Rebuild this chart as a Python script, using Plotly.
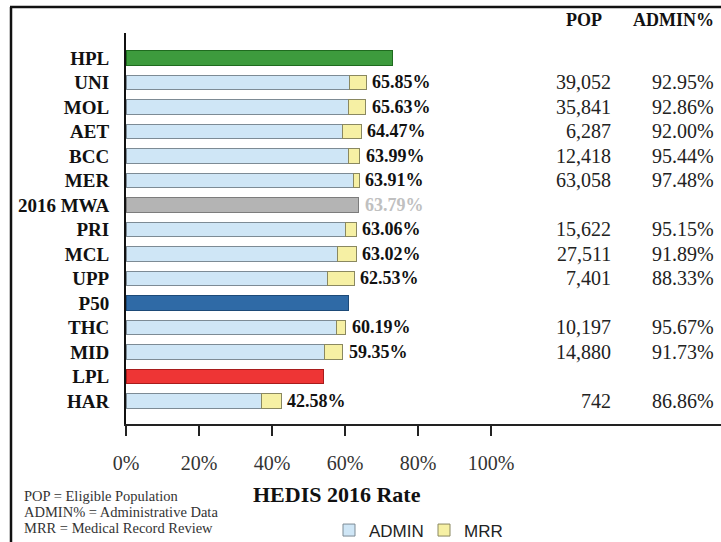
import plotly.graph_objects as go

# ---- data ----
row_order = ["HPL", "UNI", "MOL", "AET", "BCC", "MER", "2016 MWA", "PRI", "MCL",
             "UPP", "P50", "THC", "MID", "LPL", "HAR"]
plans = ["UNI", "MOL", "AET", "BCC", "MER", "PRI", "MCL", "UPP", "THC", "MID", "HAR"]
rates = [65.85, 65.63, 64.47, 63.99, 63.91, 63.06, 63.02, 62.53, 60.19, 59.35, 42.58]
pop = [39052, 35841, 6287, 12418, 63058, 15622, 27511, 7401, 10197, 14880, 742]
admin_pct = [92.95, 92.86, 92.00, 95.44, 97.48, 95.15, 91.89, 88.33, 95.67, 91.73, 86.86]

bench_names = ["HPL", "2016 MWA", "P50", "LPL"]
bench_values = [73.1, 63.79, 61.0, 54.2]
bench_colors = ["#3d9b3d", "#b4b4b4", "#2f6aa6", "#ee3535"]
bench_lines = ["#1f6b1f", "#7c7c7c", "#1d4a78", "#a81c1c"]

x_ticks = [0, 20, 40, 60, 80, 100]
x_ticktext = ["0%", "20%", "40%", "60%", "80%", "100%"]

admin_part = [r * a / 100 for r, a in zip(rates, admin_pct)]
mrr_part = [r - ad for r, ad in zip(rates, admin_part)]

SERIF = "Liberation Serif, Times New Roman, serif"
SANS = "Liberation Sans, Arial, sans-serif"

# geometry
W, H = 721, 542
ML, MR, MT, MB = 126, 0, 33, 542 - 424
PW, PH = W - ML - MR, H - MT - MB


def px(x):
    return (x - ML) / PW


def py(y):
    return (H - MB - y) / PH


cats_bottom_up = list(reversed(row_order))

fig = go.Figure()
fig.add_trace(go.Bar(
    y=plans, x=admin_part, orientation="h", name="ADMIN",
    marker=dict(color="#cfe6f6", line=dict(color="#7d8b95", width=1)),
    width=0.6, hoverinfo="skip"))
fig.add_trace(go.Bar(
    y=plans, x=mrr_part, orientation="h", name="MRR",
    marker=dict(color="#f6f0a4", line=dict(color="#8a8860", width=1)),
    width=0.6, hoverinfo="skip"))
for n, v, c, lc in zip(bench_names, bench_values, bench_colors, bench_lines):
    fig.add_trace(go.Bar(
        y=[n], x=[v], orientation="h", showlegend=False,
        marker=dict(color=c, line=dict(color=lc, width=1)),
        width=0.6, hoverinfo="skip"))

annotations = []
# value labels
for p, r in zip(plans, rates):
    annotations.append(dict(x=r, y=p, xref="x", yref="y", text=f"<b>{r:.2f}%</b>",
                            showarrow=False, xanchor="left", xshift=4,
                            font=dict(family=SERIF, size=18, color="#111111")))
annotations.append(dict(x=bench_values[1], y="2016 MWA", xref="x", yref="y",
                        text=f"<b>{bench_values[1]:.2f}%</b>", showarrow=False,
                        xanchor="left", xshift=4,
                        font=dict(family=SERIF, size=18, color="#c0c0c0")))
# table
for p, n, a in zip(plans, pop, admin_pct):
    annotations.append(dict(x=px(613), y=p, xref="paper", yref="y", text=f"{n:,}",
                            showarrow=False, xanchor="right",
                            font=dict(family=SERIF, size=20, color="#222222")))
    annotations.append(dict(x=px(716), y=p, xref="paper", yref="y", text=f"{a:.2f}%",
                            showarrow=False, xanchor="right",
                            font=dict(family=SERIF, size=20, color="#222222")))
annotations.append(dict(x=px(604), y=py(20), xref="paper", yref="paper", text="<b>POP</b>",
                        showarrow=False, xanchor="right", yanchor="middle",
                        font=dict(family=SERIF, size=18, color="#111111")))
annotations.append(dict(x=px(716), y=py(20), xref="paper", yref="paper", text="<b>ADMIN%</b>",
                        showarrow=False, xanchor="right", yanchor="middle",
                        font=dict(family=SERIF, size=18, color="#111111")))
# axis title
annotations.append(dict(x=px(337), y=py(494), xref="paper", yref="paper",
                        text="<b>HEDIS 2016 Rate</b>", showarrow=False,
                        xanchor="center", yanchor="middle",
                        font=dict(family=SERIF, size=22, color="#111111")))
# footnotes
for t, yy in zip(["POP = Eligible Population", "ADMIN% = Administrative Data",
                  "MRR = Medical Record Review"], [496, 512, 528]):
    annotations.append(dict(x=px(22), y=py(yy), xref="paper", yref="paper", text=t,
                            showarrow=False, xanchor="left", yanchor="middle",
                            font=dict(family=SERIF, size=14.5, color="#333333")))

shapes = [
    dict(type="line", xref="paper", yref="paper", x0=px(11), x1=px(11),
         y0=py(7), y1=py(545), line=dict(color="#111111", width=2.5)),
    dict(type="line", xref="paper", yref="paper", x0=px(10), x1=px(725),
         y0=py(7), y1=py(7), line=dict(color="#111111", width=2.5)),
]

fig.update_layout(
    width=W, height=H, barmode="stack", bargap=0.4,
    margin=dict(l=ML, r=MR, t=MT, b=MB, autoexpand=False),
    paper_bgcolor="white", plot_bgcolor="white",
    annotations=annotations, shapes=shapes,
    legend=dict(orientation="h", x=px(329), y=py(530.5), xanchor="left", yanchor="middle",
                font=dict(family=SANS, size=17, color="#222222"),
                itemwidth=30, entrywidth=50, entrywidthmode="pixels",
                traceorder="normal", bgcolor="rgba(0,0,0,0)"),
    xaxis=dict(range=[0, PW / 3.65], tickvals=x_ticks, ticktext=x_ticktext,
               showgrid=False, zeroline=False, showline=True, linecolor="#222222",
               linewidth=2, ticks="outside", ticklen=10, tickwidth=2, tickcolor="#222222",
               tickfont=dict(family=SERIF, size=20, color="#333333"),
               ticklabelstandoff=10, automargin=False),
    yaxis=dict(type="category", categoryorder="array", categoryarray=cats_bottom_up,
               range=[-0.94, 15.02], showgrid=False, zeroline=False, showline=True,
               linecolor="#111111", linewidth=2, ticks="",
               tickfont=dict(family=SERIF, size=19, color="#111111"),
               ticklabelstandoff=11, automargin=False),
)
# bold category labels
fig.update_yaxes(tickvals=cats_bottom_up, ticktext=[f"<b>{c}</b>" for c in cats_bottom_up])

# remove the default page margin so the 721x542 figure fills the window exactly
fig.write_html("out.html", config={"displayModeBar": False},
               post_script="document.body.style.margin='0';document.body.style.overflow='hidden';")
